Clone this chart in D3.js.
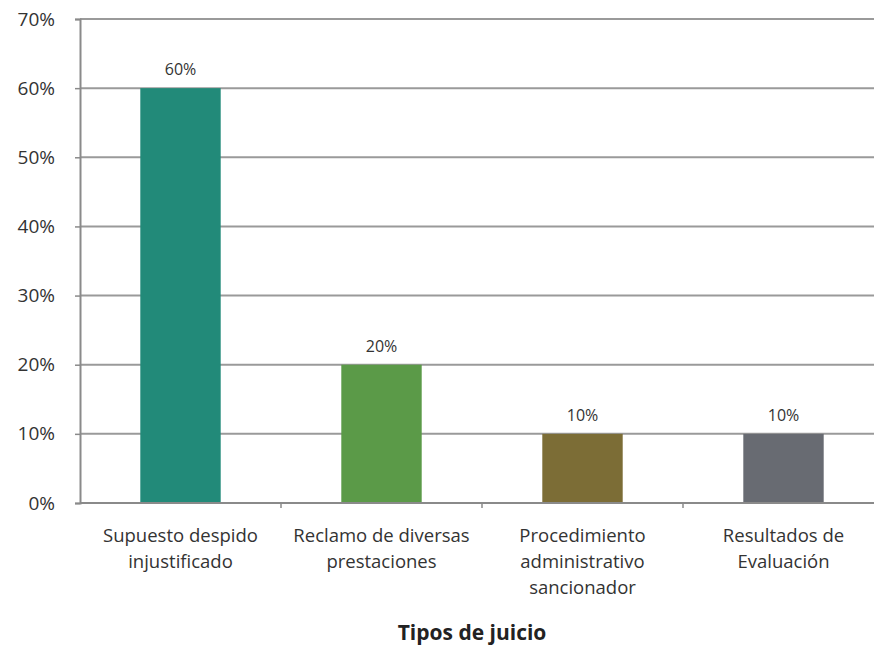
<!DOCTYPE html>
<html><head><meta charset="utf-8">
<script src="https://cdn.jsdelivr.net/npm/d3@7"></script>
<style>body{margin:0;background:#fff}svg{display:block}</style>
</head><body>
<script>
const categories = [
  ["Supuesto despido", "injustificado"],
  ["Reclamo de diversas", "prestaciones"],
  ["Procedimiento", "administrativo", "sancionador"],
  ["Resultados de", "Evaluación"]
];
const values = [0.60, 0.20, 0.10, 0.10];
const valueLabels = ["60%", "20%", "10%", "10%"];
const colors = ["#228a79", "#5b9a48", "#7c6d36", "#686b72"];
const yTicks = [0, 0.1, 0.2, 0.3, 0.4, 0.5, 0.6, 0.7];
const xTitle = "Tipos de juicio";

const W = 874, H = 646;
const m = {left: 80, top: 19, bottom: 143};
const plotRight = 884;
const font = "'Open Sans', 'Noto Sans', sans-serif";

const svg = d3.select("body").append("svg").attr("width", W).attr("height", H)
  .style("font-family", font);

const x = d3.scaleBand().domain(d3.range(categories.length))
  .range([m.left, plotRight]).paddingInner(0.6).paddingOuter(0.3);
const y = d3.scaleLinear().domain([0, 0.7]).range([H - m.bottom, m.top]);

// gridlines
svg.append("g").selectAll("line").data(yTicks.filter(d => d > 0)).join("line")
  .attr("x1", m.left).attr("x2", W)
  .attr("y1", d => y(d)).attr("y2", d => y(d))
  .attr("stroke", "#9a9a9a").attr("stroke-width", 2);

// bars
svg.append("g").selectAll("rect").data(values).join("rect")
  .attr("x", (d, i) => x(i)).attr("width", x.bandwidth())
  .attr("y", d => y(d)).attr("height", d => y(0) - y(d))
  .attr("fill", (d, i) => colors[i]);

// y axis
const yAxis = d3.axisLeft(y).tickValues(yTicks).tickFormat(d3.format(".0%")).tickSize(5).tickPadding(20);
const gy = svg.append("g").attr("transform", `translate(${m.left},0)`).call(yAxis);
gy.select(".domain").attr("stroke", "#8a8a8a").attr("stroke-width", 2);
gy.selectAll(".tick line").attr("stroke", "#8a8a8a").attr("stroke-width", 1.5);
gy.selectAll("text").attr("font-size", 19).attr("fill", "#333").style("font-family", font);

// x axis line and ticks
const xAxisG = svg.append("g");
xAxisG.append("line").attr("x1", m.left).attr("x2", W).attr("y1", y(0)).attr("y2", y(0))
  .attr("stroke", "#8a8a8a").attr("stroke-width", 2);
const step = x.step();
xAxisG.selectAll("line.tk").data(d3.range(1, categories.length)).join("line").attr("class", "tk")
  .attr("x1", i => x(i) - (step - x.bandwidth()) / 2).attr("x2", i => x(i) - (step - x.bandwidth()) / 2)
  .attr("y1", y(0)).attr("y2", y(0) + 5).attr("stroke", "#8a8a8a").attr("stroke-width", 1.5);

// category labels
const cg = svg.append("g");
categories.forEach((lines, i) => {
  const cx = x(i) + x.bandwidth() / 2;
  const t = cg.append("text").attr("text-anchor", "middle").attr("font-size", 18.5).attr("fill", "#333")
    .attr("x", cx).attr("y", y(0) + 39);
  lines.forEach((l, j) => t.append("tspan").attr("x", cx).attr("dy", j === 0 ? 0 : 26).text(l));
});

// value labels
svg.append("g").selectAll("text").data(values).join("text")
  .attr("text-anchor", "middle").attr("font-size", 16).attr("fill", "#333")
  .attr("x", (d, i) => x(i) + x.bandwidth() / 2).attr("y", d => y(d) - 13)
  .text((d, i) => valueLabels[i]);

// x title
svg.append("text").attr("x", (m.left + plotRight) / 2 - 10).attr("y", 640).attr("text-anchor", "middle")
  .attr("font-size", 21).attr("font-weight", "bold").attr("fill", "#222").text(xTitle);
</script>
</body></html>
